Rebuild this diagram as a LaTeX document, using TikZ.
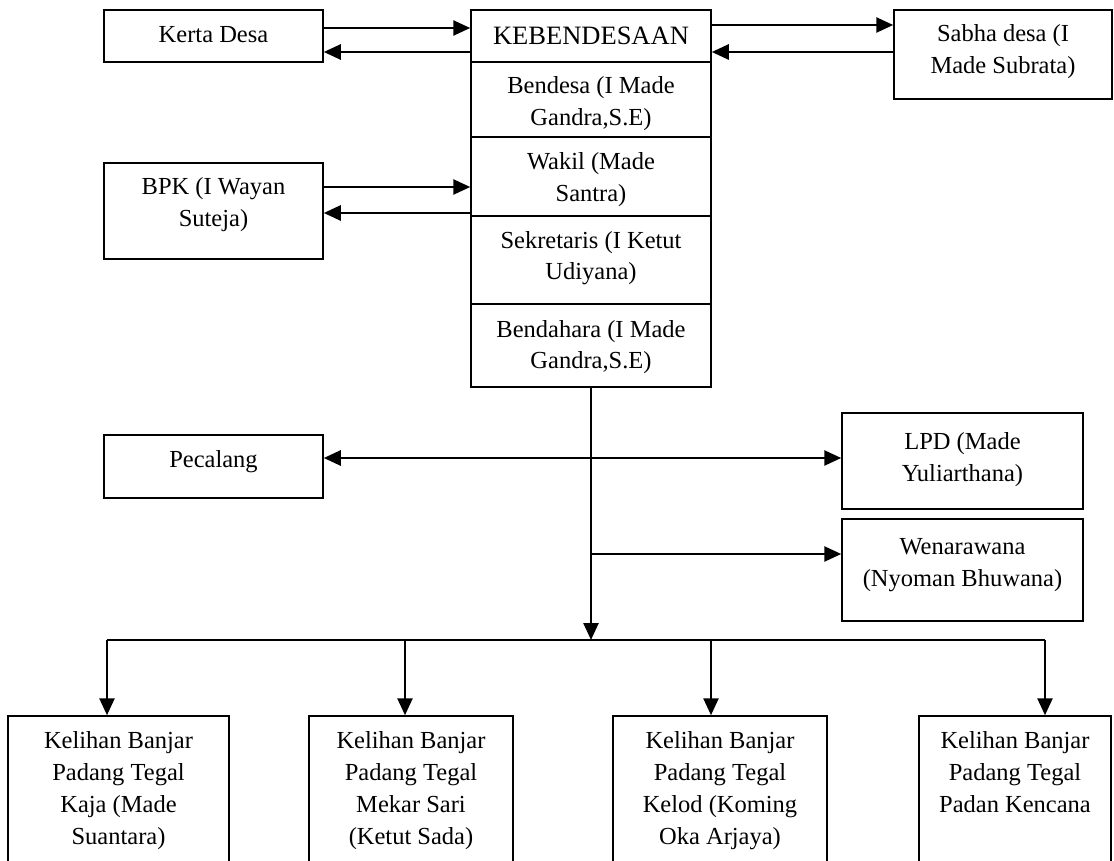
\documentclass[tikz,border=0pt]{standalone}
\usepackage{fontspec}
\setmainfont{Liberation Serif}
\usetikzlibrary{arrows.meta}
\tikzset{
  orgbox/.style={draw, line width=1.5pt, rectangle, inner sep=0pt},
  conn/.style={line width=2.6pt, -{Triangle[length=17pt,width=15pt]}},
  plainline/.style={line width=2.2pt},
  lbl/.style={anchor=base, inner sep=0pt},
}
\newcommand{\bx}[5]{\node[orgbox, minimum width={(#4-#2)*1pt}, minimum height={(#5-#3)*1pt}] (#1) at ({(#2+#4)/2},{(#3+#5)/2}) {};}
\newcommand{\tx}[5]{\node[lbl] (#1) at (#2,#3) {\parbox[t]{#4pt}{\centering\fontsize{24.5}{32}\selectfont #5}};}
\begin{document}
\begin{tikzpicture}[x=1pt,y=-1pt]
\useasboundingbox (0,0) rectangle (1114,861);
\clip (0,0) rectangle (1114,861);
% boxes
\bx{kerta}{104}{10}{323}{62}
\bx{title}{471}{10}{711}{62}
\bx{bendesa}{471}{62}{711}{137}
\bx{wakil}{471}{137}{711}{216}
\bx{sekr}{471}{216}{711}{304}
\bx{bendh}{471}{304}{711}{387}
\bx{sabha}{894}{10}{1112}{99}
\bx{bpk}{104}{163}{323}{259}
\bx{pec}{104}{435}{323}{498}
\bx{lpd}{842}{413}{1083}{509}
\bx{wen}{842}{519}{1083}{621}
\bx{kA}{8}{716}{229}{885}
\bx{kB}{309}{716}{513}{885}
\bx{kC}{613}{716}{827}{885}
\bx{kD}{919}{716}{1111}{885}
% texts
\tx{tkerta}{213.5}{43}{210}{Kerta Desa}
\node[lbl] (ttitle) at (591,45) {\fontsize{26.5}{32}\selectfont KEBENDESAAN};
\tx{tbendesa}{591}{94}{230}{Bendesa (I Made\\Gandra,S.E)}
\tx{twakil}{591}{170}{230}{Wakil (Made\\Santra)}
\tx{tsekr}{591}{248}{230}{Sekretaris (I Ketut\\Udiyana)}
\tx{tbendh}{591}{337}{230}{Bendahara (I Made\\Gandra,S.E)}
\tx{tsabha}{1003}{42}{210}{Sabha desa (I\\Made Subrata)}
\tx{tbpk}{213.5}{195}{210}{BPK (I Wayan\\Suteja)}
\tx{tpec}{213.5}{467}{210}{Pecalang}
\tx{tlpd}{962.5}{449}{230}{LPD (Made\\Yuliarthana)}
\tx{twen}{962.5}{554}{230}{Wenarawana\\(Nyoman Bhuwana)}
\tx{tkA}{118.5}{748}{210}{Kelihan Banjar\\Padang Tegal\\Kaja (Made\\Suantara)}
\tx{tkB}{411}{748}{200}{Kelihan Banjar\\Padang Tegal\\Mekar Sari\\(Ketut Sada)}
\tx{tkC}{720}{748}{210}{Kelihan Banjar\\Padang Tegal\\Kelod (Koming\\Oka Arjaya)}
\tx{tkD}{1015}{748}{190}{Kelihan Banjar\\Padang Tegal\\Padan Kencana}
% level coordinates
\coordinate (ka) at (0,28);
\coordinate (kb) at (0,52);
\coordinate (sa) at (0,25);
\coordinate (sb) at (0,52);
\coordinate (ba) at (0,187);
\coordinate (bb) at (0,213);
\coordinate (pl) at (0,458);
\coordinate (wl) at (0,554);
\coordinate (d1) at (107,640);
\coordinate (d2) at (405,640);
\coordinate (d3) at (711,640);
\coordinate (d4) at (1045,640);
% connectors
\draw[conn] (kerta.east |- ka) -- (title.west |- ka);
\draw[conn] (title.west |- kb) -- (kerta.east |- kb);
\draw[conn] (title.east |- sa) -- (sabha.west |- sa);
\draw[conn] (sabha.west |- sb) -- (title.east |- sb);
\draw[conn] (bpk.east |- ba) -- (wakil.west |- ba);
\draw[conn] (wakil.west |- bb) -- (bpk.east |- bb);
\draw[conn] (bendh.south) -- (bendh.south |- d1);
\draw[conn] (bendh.south |- pl) -- (pec.east |- pl);
\draw[conn] (bendh.south |- pl) -- (lpd.west |- pl);
\draw[conn] (bendh.south |- wl) -- (wen.west |- wl);
\draw[plainline] (d1) -- (d4);
\draw[conn] (d1) -- (d1 |- kA.north);
\draw[conn] (d2) -- (d2 |- kB.north);
\draw[conn] (d3) -- (d3 |- kC.north);
\draw[conn] (d4) -- (d4 |- kD.north);
\end{tikzpicture}
\end{document}
